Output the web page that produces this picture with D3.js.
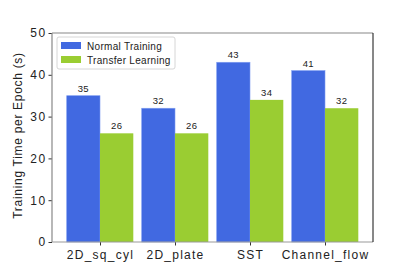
<!DOCTYPE html>
<html>
<head>
<meta charset="utf-8">
<script src="https://cdn.jsdelivr.net/npm/d3@7"></script>
<style>
    body { margin: 0; background: #fff; }
    text { font-family: "Liberation Sans", Arial, sans-serif; fill: #222; }
</style>
</head>
<body>
<div id="chart"></div>
<script>
// Data
const categories = ['2D_sq_cyl', '2D_plate', 'SST', 'Channel_flow'];
const normalTraining = [35, 32, 43, 41];
const transferLearning = [26, 26, 34, 32];
const seriesNames = ['Normal Training', 'Transfer Learning'];
const seriesColors = ['#4169E1', '#9ACD32'];
const yTicks = [0, 10, 20, 30, 40, 50];

const W = 415, H = 277;
const plot = { left: 52, right: 373, top: 33, bottom: 242 };

const svg = d3.select('#chart')
    .append('svg')
    .attr('width', W)
    .attr('height', H);

// Scales (category index as a continuous position, like matplotlib)
const xScale = d3.scaleLinear()
    .domain([-0.64, categories.length - 1 + 0.64])
    .range([plot.left, plot.right]);

const yScale = d3.scaleLinear()
    .domain([0, 50])
    .range([plot.bottom, plot.top]);

const barW = 0.444;
const series = [normalTraining, transferLearning];

// Bars
series.forEach((values, s) => {
    const offset = s === 0 ? -barW : 0;
    svg.append('g')
        .selectAll('rect')
        .data(values)
        .join('rect')
        .attr('x', (d, i) => xScale(i + offset))
        .attr('y', d => yScale(d))
        .attr('width', xScale(barW) - xScale(0))
        .attr('height', d => yScale(0) - yScale(d))
        .attr('fill', seriesColors[s])
        .attr('stroke', s === 0 ? '#7d9cf0' : 'none')
        .attr('stroke-width', 0.6);

    // Value labels
    svg.append('g')
        .selectAll('text')
        .data(values)
        .join('text')
        .attr('x', (d, i) => xScale(i + offset + barW / 2))
        .attr('y', d => yScale(d) - 4)
        .attr('text-anchor', 'middle')
        .style('font-size', '9.5px')
        .style('letter-spacing', '0.4px')
        .text(d => d);
});

// Y axis
const yAxis = svg.append('g')
    .attr('transform', `translate(${plot.left},0)`)
    .call(d3.axisLeft(yScale).tickValues(yTicks).tickSize(3.5).tickPadding(2));
yAxis.select('.domain').remove();
yAxis.selectAll('line').attr('stroke', '#333');
yAxis.selectAll('text')
    .style('font-size', '12px')
    .style('letter-spacing', '1.4px')
    .style('fill', '#222');

// X axis
const xAxis = svg.append('g')
    .attr('transform', `translate(0,${plot.bottom})`)
    .call(d3.axisBottom(xScale)
        .tickValues(d3.range(categories.length))
        .tickFormat(i => categories[i])
        .tickSize(3.5)
        .tickPadding(5));
xAxis.select('.domain').remove();
xAxis.selectAll('line').attr('stroke', '#333');
xAxis.selectAll('text')
    .style('font-size', '12px')
    .style('letter-spacing', '1.25px')
    .style('fill', '#222');

// Frame (spines)
svg.append('line').attr('x1', plot.left).attr('x2', plot.right)
    .attr('y1', plot.top).attr('y2', plot.top).attr('stroke', '#888').attr('stroke-width', 1.2);
svg.append('line').attr('x1', plot.left).attr('x2', plot.left)
    .attr('y1', plot.top).attr('y2', plot.bottom).attr('stroke', '#888').attr('stroke-width', 1.2);
svg.append('line').attr('x1', plot.left).attr('x2', plot.right)
    .attr('y1', plot.bottom).attr('y2', plot.bottom).attr('stroke', '#999').attr('stroke-width', 1);
svg.append('line').attr('x1', plot.right).attr('x2', plot.right)
    .attr('y1', plot.top).attr('y2', plot.bottom).attr('stroke', '#111').attr('stroke-width', 1);

// Y label
svg.append('text')
    .attr('transform', 'rotate(-90)')
    .attr('x', -(plot.top + plot.bottom) / 2 + 2)
    .attr('y', 22)
    .attr('text-anchor', 'middle')
    .style('font-size', '12px')
    .style('letter-spacing', '0.7px')
    .text('Training Time per Epoch (s)');

// Legend
const legend = svg.append('g').attr('transform', 'translate(57,37)');
legend.append('rect')
    .attr('width', 118).attr('height', 32)
    .attr('rx', 2)
    .attr('fill', '#fff').attr('fill-opacity', 0.8)
    .attr('stroke', '#ccc').attr('stroke-width', 0.8);
seriesNames.forEach((name, i) => {
    legend.append('rect')
        .attr('x', 4).attr('y', 5 + i * 14)
        .attr('width', 20).attr('height', 7)
        .attr('fill', seriesColors[i]);
    legend.append('text')
        .attr('x', 30).attr('y', 12.5 + i * 14)
        .style('font-size', '10px')
        .style('letter-spacing', '0.3px')
        .text(name);
});
</script>
</body>
</html>
